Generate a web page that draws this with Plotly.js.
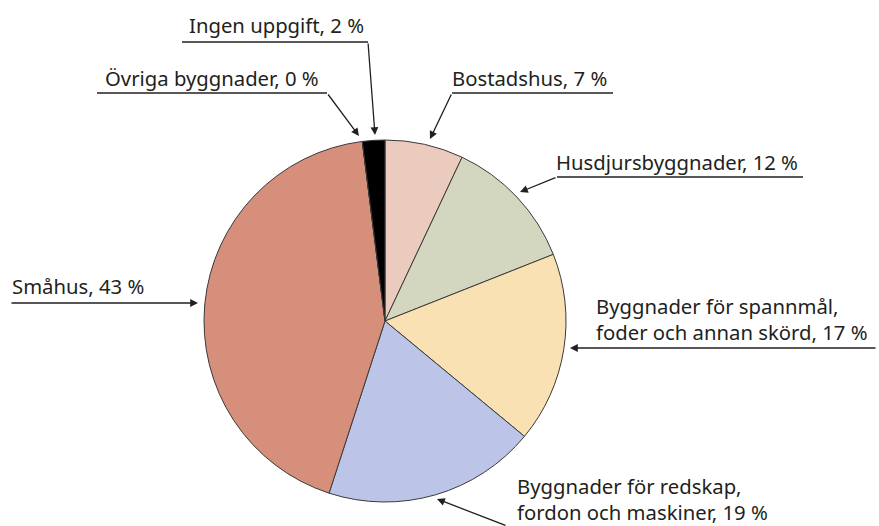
<!DOCTYPE html>
<html>
<head>
<meta charset="utf-8">
<script src="https://cdn.plot.ly/plotly-3.0.1.min.js"></script>
<style>html,body{margin:0;padding:0;background:#fff}#chart{width:879px;height:526px}</style>
</head>
<body>
<div id="chart"></div>
<script>
const categories = ["Bostadshus", "Husdjursbyggnader", "Byggnader för spannmål, foder och annan skörd", "Byggnader för redskap, fordon och maskiner", "Småhus", "Övriga byggnader", "Ingen uppgift"];
const values = [7, 12, 17, 19, 43, 0, 2];
const labelTexts = ["Bostadshus, 7 %", "Husdjursbyggnader, 12 %", "Byggnader för spannmål,<br>foder och annan skörd, 17 %", "Byggnader för redskap,<br>fordon och maskiner, 19 %", "Småhus, 43 %", "Övriga byggnader, 0 %", "Ingen uppgift, 2 %"];
const colors = ["#eccbbf", "#d3d7bf", "#f9e1b4", "#bcc5e7", "#d58f7b", "#8a8a8a", "#000000"];

const W = 879, H = 526;
const px = x => x / W;
const py = y => 1 - y / H;

// text positions (left x, middle y) in pixels
const textPos = [[450, 78], [554, 162], [594, 319], [515, 499], [10, 286], [103, 78], [187, 25]];
// underline segments [x0,y0,x1,y1]
const underlines = [[452, 93, 613, 93], [557, 177, 803, 177], null, null, null, [97, 93, 327, 93], [182, 42, 368, 42]];
// arrows: head x,y ; tail x,y
const arrows = [[430, 139, 452, 93], [520, 192, 557, 177], [570, 348, 877, 348], [437, 499, 507, 528], [198, 303, 10, 303], [359, 136, 327, 93], [375, 135, 368, 42]];

const font = {family: "'Noto Sans', 'Open Sans', sans-serif", size: 20.3, color: "#231f20"};

const annotations = [];
const shapes = [];
for (let i = 0; i < categories.length; i++) {
  annotations.push({
    xref: 'paper', yref: 'paper', x: px(textPos[i][0]), y: py(textPos[i][1]),
    xanchor: 'left', yanchor: 'middle', align: 'left', showarrow: false,
    text: labelTexts[i], font: font
  });
  const a = arrows[i];
  annotations.push({
    xref: 'paper', yref: 'paper', x: px(a[0]), y: py(a[1]),
    axref: 'pixel', ayref: 'pixel', ax: a[2] - a[0], ay: a[3] - a[1],
    text: '', showarrow: true, arrowhead: 2, arrowsize: 1.2, arrowwidth: 1.3, arrowcolor: '#231f20', standoff: 0
  });
  const u = underlines[i];
  if (u) {
    shapes.push({type: 'line', xref: 'paper', yref: 'paper', x0: px(u[0]), y0: py(u[1]), x1: px(u[2]), y1: py(u[3]), line: {color: '#231f20', width: 1.3}});
  }
}

const data = [{
  type: 'pie',
  labels: categories,
  values: values,
  sort: false,
  direction: 'clockwise',
  rotation: 0,
  textinfo: 'none',
  hoverinfo: 'none',
  showlegend: false,
  marker: {colors: colors, line: {color: '#3a3a3a', width: 1}},
  domain: {x: [px(385 - 181), px(385 + 181)], y: [py(502), py(140)]}
}];

const layout = {
  width: W, height: H,
  margin: {l: 0, r: 0, t: 0, b: 0},
  paper_bgcolor: '#ffffff',
  showlegend: false,
  annotations: annotations,
  shapes: shapes
};

Plotly.newPlot('chart', data, layout, {displayModeBar: false, staticPlot: true});
</script>
</body>
</html>
